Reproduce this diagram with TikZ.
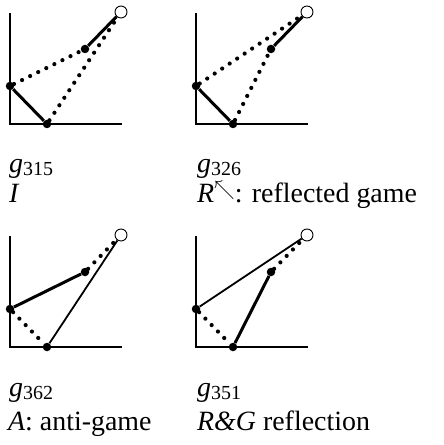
\documentclass[tikz,border=0pt]{standalone}
\usepackage{fontspec}
\setmainfont{Liberation Serif}
\begin{document}
\begin{tikzpicture}[x=1bp,y=-1bp,
  axis/.style={line width=2.6bp, line join=miter},
  thickseg/.style={line width=3bp},
  thinseg/.style={line width=1.8bp},
  dots/.style={line width=4.2bp, line cap=round, dash pattern=on 0bp off 9bp},
  fdot/.style={circle, fill=black, inner sep=0pt, minimum size=8.5bp},
  odot/.style={circle, draw=black, fill=white, line width=0.9bp, inner sep=0pt, minimum size=12bp},
  lbl/.style={anchor=base west, inner sep=0pt, font=\fontsize{28}{28}\selectfont}]
\useasboundingbox (0,0) rectangle (444,445);
\newcommand{\gsub}[1]{{\itshape g}\raisebox{-3bp}{\fontsize{20}{20}\selectfont #1}}

% ---------- panel 1: I ----------
\coordinate (T1) at (10,13); \coordinate (O1) at (10,124); \coordinate (E1) at (122,124);
\draw[axis] (T1) -- (O1) -- (E1);
\node[fdot] (L1) at (10,86) {};
\node[fdot] (B1) at (47,124) {};
\node[fdot] (M1) at (85,49) {};
\node[odot] (P1) at (121,12) {};
\draw[thickseg] (L1) -- (B1);
\draw[thickseg] (M1) -- (P1);
\draw[dots] (L1) -- (M1);
\draw[dots] (B1) -- (P1);

% ---------- panel 2: R ----------
\coordinate (T2) at (196,13); \coordinate (O2) at (196,124); \coordinate (E2) at (308,124);
\draw[axis] (T2) -- (O2) -- (E2);
\node[fdot] (L2) at (196,86) {};
\node[fdot] (B2) at (233,124) {};
\node[fdot] (M2) at (271,49) {};
\node[odot] (P2) at (307,12) {};
\draw[thickseg] (L2) -- (B2);
\draw[thickseg] (M2) -- (P2);
\draw[dots] (L2) -- (P2);
\draw[dots] (B2) -- (M2);

% ---------- panel 3: A ----------
\coordinate (T3) at (10,236); \coordinate (O3) at (10,347); \coordinate (E3) at (122,347);
\draw[axis] (T3) -- (O3) -- (E3);
\node[fdot] (L3) at (10,309) {};
\node[fdot] (B3) at (47,347) {};
\node[fdot] (M3) at (85,272) {};
\node[odot] (P3) at (121,235) {};
\draw[thickseg] (L3) -- (M3);
\draw[thinseg] (B3) -- (P3);
\draw[dots] (L3) -- (B3);
\draw[dots] (M3) -- (P3);

% ---------- panel 4: R&G ----------
\coordinate (T4) at (196,236); \coordinate (O4) at (196,347); \coordinate (E4) at (308,347);
\draw[axis] (T4) -- (O4) -- (E4);
\node[fdot] (L4) at (196,309) {};
\node[fdot] (B4) at (233,347) {};
\node[fdot] (M4) at (271,272) {};
\node[odot] (P4) at (307,235) {};
\draw[thinseg] (L4) -- (P4);
\draw[thickseg] (B4) -- (M4);
\draw[dots] (L4) -- (B4);
\draw[dots] (M4) -- (P4);

% ---------- labels ----------
\node[lbl] (g1) at (9,173) {\gsub{315}};
\node[lbl] (n1) at (9,203) {\itshape I};
\node[lbl] (g2) at (197,173) {\gsub{326}};
\node[lbl] (n2) at (197,203) {{\itshape R}\raisebox{7bp}{\fontsize{20}{20}\selectfont$\nwarrow$}: reflected game};
\node[lbl] (g3) at (9,396) {\gsub{362}};
\node[lbl] (n3) at (8,430) {{\itshape A}: anti-game};
\node[lbl] (g4) at (197,396) {\gsub{351}};
\node[lbl] (n4) at (197,430) {{\itshape R\&G} reflection};
\end{tikzpicture}
\end{document}
